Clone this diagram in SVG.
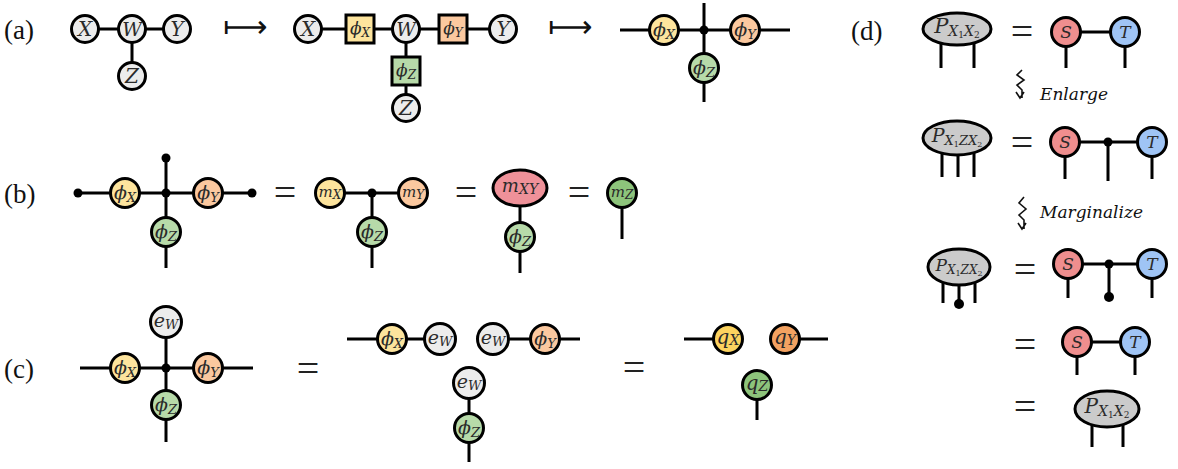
<svg xmlns="http://www.w3.org/2000/svg" width="1178" height="469" viewBox="0 0 1178 469" font-family="Liberation Serif, DejaVu Serif, serif">
<style>
.e{stroke:#000;stroke-width:3;fill:none}
.n{stroke:#000;stroke-width:3}
.g{fill:#ececec}
.yl{fill:#fde49d}
.or{fill:#fbc89f}
.gr{fill:#b7daa9}
.qy{fill:#fcd35f}
.qo{fill:#f3a261}
.qg{fill:#8dc47b}
.pk{fill:#ef9199}
.rs{fill:#ef8e8e}
.bl{fill:#9fc4f5}
.pg{fill:#cbcbcb}
.t{font-style:italic;fill:#2a2a2a;text-anchor:middle}
.u{font-style:normal}
.lab{font-size:27px;fill:#111}
.eq{font-size:40px;fill:#222;text-anchor:middle}
.arr{font-size:31px;fill:#111}
.it{font-style:italic;font-size:17px;fill:#111}
.sq{stroke:#111;stroke-width:1.6;fill:none}
</style>

<!-- panel labels -->
<g id="labels">
<text class="lab" x="4" y="39">(a)</text>
<text class="lab" x="4" y="203">(b)</text>
<text class="lab" x="4" y="378">(c)</text>
<text class="lab" x="851" y="40">(d)</text>
<text class="arr" x="223" y="37" font-family="DejaVu Sans, sans-serif">⟼</text>
<text class="arr" x="548" y="37" font-family="DejaVu Sans, sans-serif">⟼</text>
<text class="eq" x="285" y="206">=</text>
<text class="eq" x="466" y="206">=</text>
<text class="eq" x="579" y="206">=</text>
<text class="eq" x="308" y="382">=</text>
<text class="eq" x="634" y="381">=</text>
<text class="eq" x="1022" y="45">=</text>
<text class="eq" x="1022" y="156">=</text>
<text class="eq" x="1025" y="283">=</text>
<text class="eq" x="1025" y="358">=</text>
<text class="eq" x="1025" y="420">=</text>
<path class="sq" d="M1022,70 l-5,5 l7,5 l-7,5 l5,5 l0,8 M1016,92 L1020,98 L1024,92"/>
<text class="it" x="1040" y="100" font-family="DejaVu Serif, serif">Enlarge</text>
<path class="sq" d="M1024,197 l-5,6 l7,6 l-7,6 l5,5 l0,9 M1018,223 L1022,229 L1026,223"/>
<text class="it" x="1040" y="218" font-family="DejaVu Serif, serif">Marginalize</text>
</g>

<!-- connectors -->
<g id="connectors">
<path class="e" d="M85,29 H177 M132,29 V76"/>
<path class="e" d="M308,29 H503 M406,29 V108"/>
<path class="e" d="M620,30 H790 M704,3 V102"/>
<path class="e" d="M78,193 H252 M166,158 V268"/>
<path class="e" d="M330,193 H413 M372,193 V268"/>
<path class="e" d="M520,200 V273"/>
<path class="e" d="M622,193 V239"/>
<path class="e" d="M80,368 H253 M166,322 V442"/>
<path class="e" d="M347,339 H440 M493,339 H580 M469,383 V462"/>
<path class="e" d="M684,339 H728 M785,339 H828 M757,385 V420"/>
<path class="e" d="M941,40 V68 M974,40 V68 M1066,32 H1125 M1066,32 V68 M1125,32 V68"/>
<path class="e" d="M942,150 V177 M958,150 V177 M974,150 V177 M1065,142 H1152 M1065,142 V179 M1108,142 V181 M1152,142 V179"/>
<path class="e" d="M943,280 V303 M959,280 V303 M975,280 V303 M1068,264 H1152 M1068,264 V298 M1109,264 V297 M1152,264 V298"/>
<path class="e" d="M1077,342 H1135 M1077,342 V375 M1135,342 V375"/>
<path class="e" d="M1092,420 V447 M1123,420 V447"/>
<g fill="#000">
<circle cx="704" cy="30" r="4.5"/>
<circle cx="78" cy="193" r="4.5"/>
<circle cx="252" cy="193" r="4.5"/>
<circle cx="166" cy="158" r="4.5"/>
<circle cx="166" cy="193" r="4.5"/>
<circle cx="372" cy="193" r="4.5"/>
<circle cx="166" cy="368" r="4.5"/>
<circle cx="1108" cy="142" r="4.5"/>
<circle cx="1109" cy="264" r="4.5"/>
<circle cx="1109" cy="297" r="5"/>
<circle cx="959" cy="304" r="5"/>
</g>
</g>

<g font-family="DejaVu Serif, serif">
<!-- (a) nodes -->
<g id="a1-X"><circle class="n g" cx="85" cy="29" r="13.5"/><text class="t" x="85" y="36" font-size="20">X</text></g>
<g id="a1-W"><circle class="n g" cx="132" cy="29" r="13.5"/><text class="t" x="132" y="36" font-size="19">W</text></g>
<g id="a1-Y"><circle class="n g" cx="177" cy="29" r="13.5"/><text class="t" x="177" y="36" font-size="20">Y</text></g>
<g id="a1-Z"><circle class="n g" cx="132" cy="76" r="13.5"/><text class="t" x="132" y="83" font-size="20">Z</text></g>

<g id="a2-X"><circle class="n g" cx="308" cy="29" r="13.5"/><text class="t" x="308" y="36" font-size="20">X</text></g>
<g id="a2-phiX"><rect class="n yl" x="346" y="15" width="28" height="28"/><text class="t" x="360" y="34" font-size="17">ϕ<tspan font-size="12" dy="3">X</tspan></text></g>
<g id="a2-W"><circle class="n g" cx="406" cy="29" r="13.5"/><text class="t" x="406" y="36" font-size="19">W</text></g>
<g id="a2-phiY"><rect class="n or" x="439" y="15" width="28" height="28"/><text class="t" x="453" y="34" font-size="17">ϕ<tspan font-size="12" dy="3">Y</tspan></text></g>
<g id="a2-Y"><circle class="n g" cx="503" cy="29" r="13.5"/><text class="t" x="503" y="36" font-size="20">Y</text></g>
<g id="a2-phiZ"><rect class="n gr" x="392" y="57" width="28" height="28"/><text class="t" x="406" y="76" font-size="17">ϕ<tspan font-size="12" dy="3">Z</tspan></text></g>
<g id="a2-Z"><circle class="n g" cx="406" cy="108" r="13.5"/><text class="t" x="406" y="115" font-size="20">Z</text></g>

<g id="a3-phiX"><circle class="n yl" cx="664" cy="30" r="14.5"/><text class="t" x="664" y="36" font-size="19">ϕ<tspan font-size="13" dy="3">X</tspan></text></g>
<g id="a3-phiY"><circle class="n or" cx="745" cy="30" r="14.5"/><text class="t" x="745" y="36" font-size="19">ϕ<tspan font-size="13" dy="3">Y</tspan></text></g>
<g id="a3-phiZ"><circle class="n gr" cx="704" cy="68" r="14.5"/><text class="t" x="704" y="74" font-size="19">ϕ<tspan font-size="13" dy="3">Z</tspan></text></g>

<!-- (b) nodes -->
<g id="b1-phiX"><circle class="n yl" cx="125" cy="193" r="14.5"/><text class="t" x="125" y="199" font-size="19">ϕ<tspan font-size="13" dy="3">X</tspan></text></g>
<g id="b1-phiY"><circle class="n or" cx="208" cy="193" r="14.5"/><text class="t" x="208" y="199" font-size="19">ϕ<tspan font-size="13" dy="3">Y</tspan></text></g>
<g id="b1-phiZ"><circle class="n gr" cx="166" cy="232" r="14.5"/><text class="t" x="166" y="238" font-size="19">ϕ<tspan font-size="13" dy="3">Z</tspan></text></g>

<g id="b2-mX"><circle class="n yl" cx="330" cy="193" r="14.5"/><text class="t" x="330" y="197" font-size="15">m<tspan font-size="12" dy="2">X</tspan></text></g>
<g id="b2-mY"><circle class="n or" cx="413" cy="193" r="14.5"/><text class="t" x="413" y="197" font-size="15">m<tspan font-size="12" dy="2">Y</tspan></text></g>
<g id="b2-phiZ"><circle class="n gr" cx="372" cy="232" r="14.5"/><text class="t" x="372" y="238" font-size="19">ϕ<tspan font-size="13" dy="3">Z</tspan></text></g>

<g id="b3-mXY"><ellipse class="n pk" cx="520" cy="188" rx="27" ry="18"/><text class="t" x="520" y="192" font-size="18">m<tspan font-size="14" dy="2">XY</tspan></text></g>
<g id="b3-phiZ"><circle class="n gr" cx="520" cy="237" r="14.5"/><text class="t" x="520" y="243" font-size="19">ϕ<tspan font-size="13" dy="3">Z</tspan></text></g>

<g id="b4-mZ"><circle class="n qg" cx="622" cy="193" r="14.5"/><text class="t" x="622" y="197" font-size="15">m<tspan font-size="12" dy="2">Z</tspan></text></g>

<!-- (c) nodes -->
<g id="c1-eW"><circle class="n g" cx="166" cy="322" r="15.5"/><text class="t" x="166" y="327" font-size="19">e<tspan font-size="13" dy="2">W</tspan></text></g>
<g id="c1-phiX"><circle class="n yl" cx="125" cy="368" r="14.5"/><text class="t" x="125" y="374" font-size="19">ϕ<tspan font-size="13" dy="3">X</tspan></text></g>
<g id="c1-phiY"><circle class="n or" cx="208" cy="368" r="14.5"/><text class="t" x="208" y="374" font-size="19">ϕ<tspan font-size="13" dy="3">Y</tspan></text></g>
<g id="c1-phiZ"><circle class="n gr" cx="166" cy="405" r="14.5"/><text class="t" x="166" y="411" font-size="19">ϕ<tspan font-size="13" dy="3">Z</tspan></text></g>

<g id="c2-phiX"><circle class="n yl" cx="392" cy="339" r="14.5"/><text class="t" x="392" y="345" font-size="19">ϕ<tspan font-size="13" dy="3">X</tspan></text></g>
<g id="c2-eW1"><circle class="n g" cx="440" cy="339" r="15.5"/><text class="t" x="440" y="344" font-size="19">e<tspan font-size="13" dy="2">W</tspan></text></g>
<g id="c2-eW2"><circle class="n g" cx="493" cy="339" r="15.5"/><text class="t" x="493" y="344" font-size="19">e<tspan font-size="13" dy="2">W</tspan></text></g>
<g id="c2-phiY"><circle class="n or" cx="545" cy="339" r="14.5"/><text class="t" x="545" y="345" font-size="19">ϕ<tspan font-size="13" dy="3">Y</tspan></text></g>
<g id="c2-eW3"><circle class="n g" cx="469" cy="383" r="15.5"/><text class="t" x="469" y="388" font-size="19">e<tspan font-size="13" dy="2">W</tspan></text></g>
<g id="c2-phiZ"><circle class="n gr" cx="469" cy="428" r="14.5"/><text class="t" x="469" y="434" font-size="19">ϕ<tspan font-size="13" dy="3">Z</tspan></text></g>

<g id="c3-qX"><circle class="n qy" cx="728" cy="339" r="14.5"/><text class="t" x="728" y="344" font-size="20">q<tspan font-size="14" dy="1">X</tspan></text></g>
<g id="c3-qY"><circle class="n qo" cx="785" cy="339" r="14.5"/><text class="t" x="785" y="344" font-size="20">q<tspan font-size="14" dy="1">Y</tspan></text></g>
<g id="c3-qZ"><circle class="n qg" cx="757" cy="385" r="14.5"/><text class="t" x="757" y="390" font-size="20">q<tspan font-size="14" dy="1">Z</tspan></text></g>

<!-- (d) nodes -->
<g id="d1-P"><ellipse class="n pg" cx="957" cy="29" rx="34" ry="16"/><text class="t" x="957" y="33" font-size="21">P<tspan font-size="14" dy="3">X</tspan><tspan class="u" font-size="9" dy="2">1</tspan><tspan font-size="14" dy="-2">X</tspan><tspan class="u" font-size="9" dy="2">2</tspan></text></g>
<g id="d1-S"><circle class="n rs" cx="1066" cy="32" r="14.5"/><text class="t" x="1066" y="38" font-size="17">S</text></g>
<g id="d1-T"><circle class="n bl" cx="1125" cy="32" r="14.5"/><text class="t" x="1125" y="38" font-size="17">T</text></g>

<g id="d2-P"><ellipse class="n pg" cx="957" cy="138" rx="34" ry="17"/><text class="t" x="957" y="142" font-size="19">P<tspan font-size="13" dy="3">X</tspan><tspan class="u" font-size="8" dy="2">1</tspan><tspan font-size="13" dy="-2">ZX</tspan><tspan class="u" font-size="8" dy="2">2</tspan></text></g>
<g id="d2-S"><circle class="n rs" cx="1065" cy="142" r="14.5"/><text class="t" x="1065" y="148" font-size="17">S</text></g>
<g id="d2-T"><circle class="n bl" cx="1152" cy="142" r="14.5"/><text class="t" x="1152" y="148" font-size="17">T</text></g>

<g id="d3-P"><ellipse class="n pg" cx="959" cy="267" rx="31" ry="18"/><text class="t" x="959" y="271" font-size="17">P<tspan font-size="12" dy="3">X</tspan><tspan class="u" font-size="8" dy="2">1</tspan><tspan font-size="12" dy="-2">ZX</tspan><tspan class="u" font-size="8" dy="2">2</tspan></text></g>
<g id="d3-S"><circle class="n rs" cx="1068" cy="264" r="14.5"/><text class="t" x="1068" y="270" font-size="17">S</text></g>
<g id="d3-T"><circle class="n bl" cx="1152" cy="264" r="14.5"/><text class="t" x="1152" y="270" font-size="17">T</text></g>

<g id="d4-S"><circle class="n rs" cx="1077" cy="342" r="14.5"/><text class="t" x="1077" y="348" font-size="17">S</text></g>
<g id="d4-T"><circle class="n bl" cx="1135" cy="342" r="14.5"/><text class="t" x="1135" y="348" font-size="17">T</text></g>

<g id="d5-P"><ellipse class="n pg" cx="1107" cy="409" rx="32" ry="18"/><text class="t" x="1107" y="413" font-size="20">P<tspan font-size="14" dy="3">X</tspan><tspan class="u" font-size="9" dy="2">1</tspan><tspan font-size="14" dy="-2">X</tspan><tspan class="u" font-size="9" dy="2">2</tspan></text></g>
</g>
</svg>
